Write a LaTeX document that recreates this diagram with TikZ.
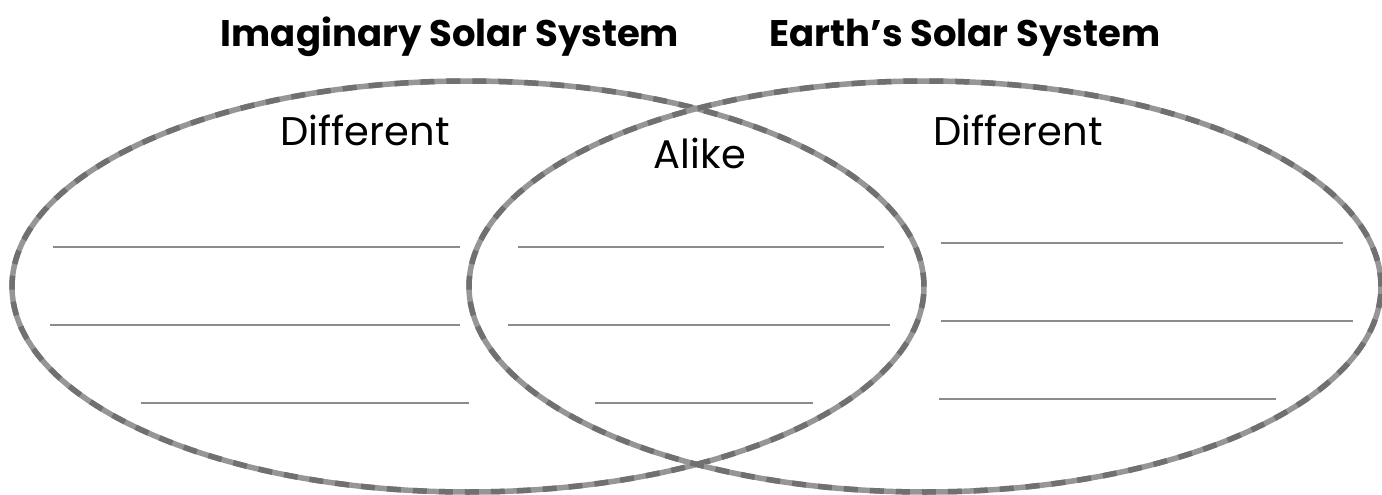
\documentclass[tikz,border=0pt]{standalone}
\usepackage{fontspec}
\setmainfont{Poppins}
\usetikzlibrary{shapes.geometric}
\definecolor{RimGray}{RGB}{150,150,150}
\definecolor{RimDark}{RGB}{112,112,112}
\definecolor{RuleGray}{RGB}{140,140,140}
\tikzset{
  venn/.style={ellipse, draw=RimGray, line width=5.5pt, inner sep=0pt,
    minimum width=912pt, minimum height=411pt,
    postaction={draw=RimDark, line width=5.5pt, dash pattern=on 14pt off 12pt}},
  title/.style={anchor=base, font=\fontsize{37}{40}\selectfont\bfseries, inner sep=0pt},
  area/.style={anchor=base, font=\fontsize{40}{44}\selectfont, inner sep=0pt},
  wline/.style={draw=RuleGray, line width=1.6pt},
}
\begin{document}
\begin{tikzpicture}[x=1pt, y=-1pt]
  \useasboundingbox (0,0) rectangle (1382,495);
  % the two sets
  \node[venn] (imag) at (468,286.5) {};
  \node[venn] (earth) at (925,286.5) {};
  % headings
  \node[title] (imagT) at (450,47) {Imaginary Solar System};
  \node[title] (earthT) at (965,47) {Earth’s Solar System};
  \node[area] (diffL) at (365,145) {Different};
  \node[area] (alike) at (700,168) {Alike};
  \node[area] (diffR) at (1018,145) {Different};
  % lines to write on
  \foreach \xa/\xb/\y in {53/460/247, 50/460/325, 141/469/403,
                          518/884/247, 508/890/325, 595/813/403,
                          941/1343/243, 941/1353/321, 939/1276/399}
    \draw[wline] (\xa,\y) -- (\xb,\y);
\end{tikzpicture}
\end{document}
